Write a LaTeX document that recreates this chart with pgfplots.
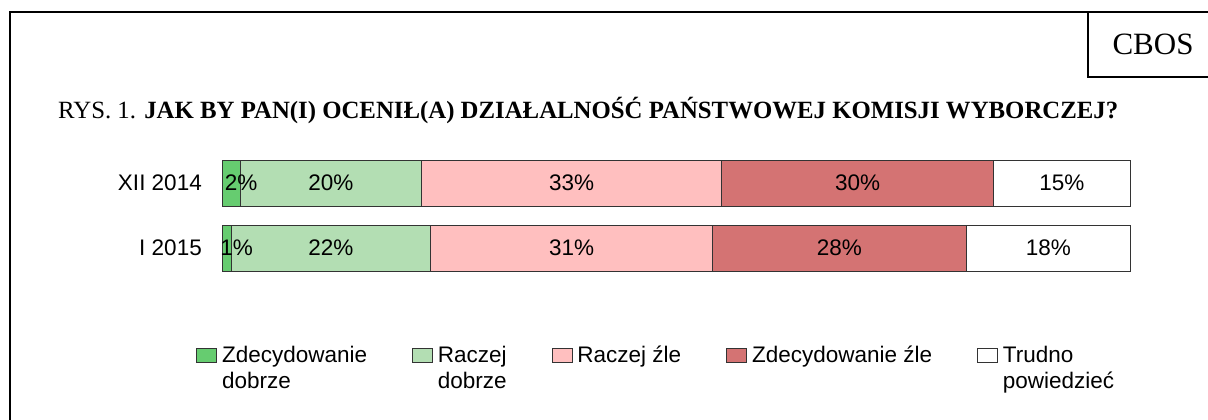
\documentclass[border=0pt]{standalone}
\usepackage{pgfplots}
\pgfplotsset{compat=1.18}
\usepackage{fontspec}
\setmainfont{Liberation Serif}
\newfontfamily\arial{Liberation Sans}
\definecolor{c1}{RGB}{102,204,112}
\definecolor{c2}{RGB}{179,222,179}
\definecolor{c3}{RGB}{255,191,191}
\definecolor{c4}{RGB}{212,115,115}
\newcommand\af{\arial\fontsize{22.5bp}{26bp}\selectfont}
\begin{document}
\begin{tikzpicture}[x=1bp,y=1bp]
\path[use as bounding box] (0,0) rectangle (1208,419);
\draw[line width=2bp] (10,-5) -- (10,406.5) -- (1215,406.5);
\draw[line width=1.5bp] (1088,406.5) -- (1088,342) -- (1215,342);
\node[font=\fontsize{31bp}{36bp}\selectfont] at (1153,375) {CBOS};
\node[anchor=base west, inner sep=0pt, font=\fontsize{24.8bp}{28bp}\selectfont] at (58,301) {RYS. 1. \textbf{JAK BY PAN(I) OCENIŁ(A) DZIAŁALNOŚĆ PAŃSTWOWEJ KOMISJI WYBORCZEJ?}};
\begin{axis}[
  at={(222bp,138.5bp)}, anchor=south west,
  scale only axis, width=908bp, height=130bp,
  xbar stacked, bar width=46bp,
  xmin=0, xmax=100, ymin=-0.5, ymax=1.5,
  clip=false,
  hide x axis,
  y axis line style={draw=none},
  ytick={0,1}, yticklabels={I 2015, XII 2014},
  ytick style={draw=none},
  yticklabel style={font=\af, inner sep=0pt, xshift=-20bp},
  /pgf/number format/assume math mode=true,
  nodes near coords={\pgfmathprintnumber{\pgfplotspointmeta}\%},
  every node near coord/.append style={font=\af, text=black},
  legend image code/.code={\draw[#1] (0bp,0bp) rectangle (20bp,14bp); \path (23bp,0bp);},
  legend style={at={(-0.02863,-0.4731)}, anchor=north west, draw=none, fill=none,
    legend columns=5, inner sep=0pt, font=\af,
    cells={anchor=base west, inner sep=0pt, text height=18bp, text depth=0pt},
    /tikz/every even column/.append style={column sep=43bp}},
]
\addplot[fill=c1, draw=black!80, line width=0.8bp, every node near coord/.append style={xshift=10bp}] coordinates {(1,0) (2,1)};
\addplot[fill=c2, draw=black!80, line width=0.8bp] coordinates {(22,0) (20,1)};
\addplot[fill=c3, draw=black!80, line width=0.8bp] coordinates {(31,0) (33,1)};
\addplot[fill=c4, draw=black!80, line width=0.8bp] coordinates {(28,0) (30,1)};
\addplot[fill=white, draw=black!80, line width=0.8bp] coordinates {(18,0) (15,1)};
\addlegendentry{\vtop{\hbox{Zdecydowanie}\hbox{dobrze}}}
\addlegendentry{\vtop{\hbox{Raczej}\hbox{dobrze}}}
\addlegendentry{Raczej źle}
\addlegendentry{Zdecydowanie źle}
\addlegendentry{\vtop{\hbox{Trudno}\hbox{powiedzieć}}}
\end{axis}
\end{tikzpicture}
\end{document}
